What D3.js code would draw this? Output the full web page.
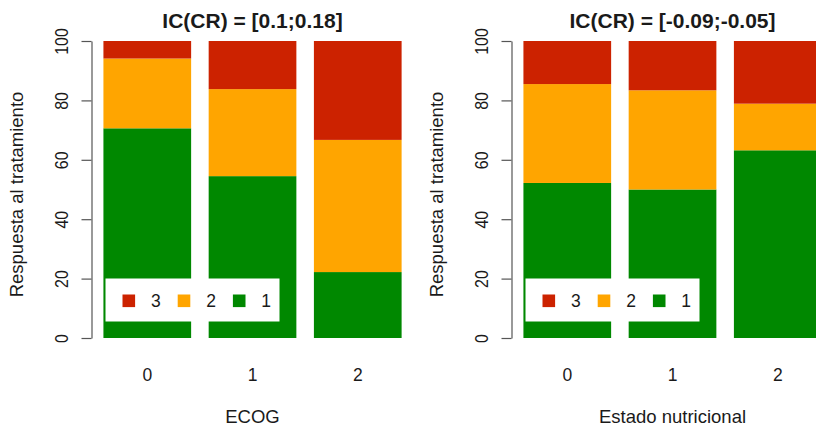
<!DOCTYPE html>
<html>
<head>
<meta charset="utf-8">
<script src="https://cdn.jsdelivr.net/npm/d3@7"></script>
<style>
  html, body { margin: 0; padding: 0; background: #fff; }
  svg { display: block; }
  text { font-family: "Liberation Sans", Arial, sans-serif; fill: #1a1a1a; }
</style>
</head>
<body>
<svg id="chart" width="816" height="427"></svg>
<script>
// Response categories (stack order bottom -> top) and their colours
const levels = ["1", "2", "3"];
const levelColors = ["#008800", "#FFA500", "#CC2200"];

// Group labels on the x axis
const categories = ["0", "1", "2"];

// Percentages per group, ECOG panel
const ecogLevel1 = [70.6, 54.5, 22.2];
const ecogLevel2 = [23.5, 29.3, 44.5];
const ecogLevel3 = [5.9, 16.2, 33.3];

// Percentages per group, nutritional status panel
const nutriLevel1 = [52.2, 50.0, 63.2];
const nutriLevel2 = [33.3, 33.4, 15.7];
const nutriLevel3 = [14.5, 16.6, 21.1];

const yTicks = [0, 20, 40, 60, 80, 100];

const panels = [
  { title: "IC(CR) = [0.1;0.18]", xlab: "ECOG", series: [ecogLevel1, ecogLevel2, ecogLevel3], offset: 0 },
  { title: "IC(CR) = [-0.09;-0.05]", xlab: "Estado nutricional", series: [nutriLevel1, nutriLevel2, nutriLevel3], offset: 420 }
];

const svg = d3.select("#chart");

// Bars occupy [0.2 + 1.2*i, 1.2 + 1.2*i] in user units, range padded by 4%
const unit = 87.7;
const xMin = 0.2 - 0.136, xMax = 3.6 + 0.136;
const plotLeft = 91.5;
const plotRight = plotLeft + (xMax - xMin) * unit;

const y = d3.scaleLinear().domain([0, 100]).range([338, 41]);

panels.forEach(p => {
  const g = svg.append("g").attr("transform", `translate(${p.offset},0)`);

  const x = d3.scaleLinear().domain([xMin, xMax]).range([plotLeft, plotRight]);

  const rows = categories.map((c, i) => {
    const r = { cat: c, idx: i };
    levels.forEach((l, k) => { r[l] = p.series[k][i]; });
    return r;
  });
  const stacked = d3.stack().keys(levels)(rows);

  stacked.forEach((layer, k) => {
    g.selectAll(null)
      .data(layer)
      .join("rect")
      .attr("x", d => x(0.2 + 1.2 * d.data.idx))
      .attr("width", d => x(1.2 + 1.2 * d.data.idx) - x(0.2 + 1.2 * d.data.idx))
      .attr("y", d => y(d[1]))
      .attr("height", d => y(d[0]) - y(d[1]))
      .attr("fill", levelColors[k]);
  });

  // Y axis
  const yAxis = g.append("g").attr("transform", `translate(${plotLeft},0)`)
    .call(d3.axisLeft(y).tickValues(yTicks).tickSize(10).tickSizeOuter(0).tickFormat(d3.format("d")));
  yAxis.select(".domain").attr("stroke", "#555").attr("stroke-width", 1.2);
  yAxis.selectAll(".tick line").attr("stroke", "#555").attr("stroke-width", 1.2);
  yAxis.selectAll(".tick text")
    .attr("transform", "rotate(-90) scale(1,1.12)")
    .attr("x", 0).attr("y", -21).attr("dy", 0)
    .attr("text-anchor", "middle")
    .style("font-size", "16px")
    .style("font-family", "'Liberation Sans', Arial, sans-serif")
    .attr("fill", "#1a1a1a");

  // Category labels
  g.selectAll(null)
    .data(categories)
    .join("text")
    .attr("x", (d, i) => x(0.7 + 1.2 * i))
    .attr("y", 381)
    .attr("text-anchor", "middle")
    .style("font-size", "17.5px")
    .text(d => d);

  // Titles
  const cx = (plotLeft + plotRight) / 2;
  g.append("text")
    .attr("x", cx).attr("y", 28)
    .attr("text-anchor", "middle")
    .style("font-size", "21px").style("font-weight", "bold")
    .text(p.title);

  g.append("text")
    .attr("x", cx).attr("y", 423)
    .attr("text-anchor", "middle")
    .style("font-size", "18.5px")
    .text(p.xlab);

  g.append("text")
    .attr("transform", `translate(23,${(y(0) + y(100)) / 2 + 5}) rotate(-90)`)
    .attr("text-anchor", "middle")
    .style("font-size", "18.5px")
    .text("Respuesta al tratamiento");

  // Legend (horizontal, white background)
  const lg = g.append("g");
  lg.append("rect")
    .attr("x", 105.5).attr("y", 278.5).attr("width", 174).attr("height", 43)
    .attr("fill", "#fff");
  const legendOrder = [2, 1, 0];
  legendOrder.forEach((k, j) => {
    const kx = 128.8 + j * 55.2;
    lg.append("rect")
      .attr("x", kx - 6.3).attr("y", 294.5).attr("width", 12.6).attr("height", 12.6)
      .attr("fill", levelColors[k]);
    lg.append("text")
      .attr("x", kx + 27).attr("y", 307)
      .attr("text-anchor", "middle")
      .style("font-size", "17.5px")
      .text(levels[k]);
  });
});
</script>
</body>
</html>
